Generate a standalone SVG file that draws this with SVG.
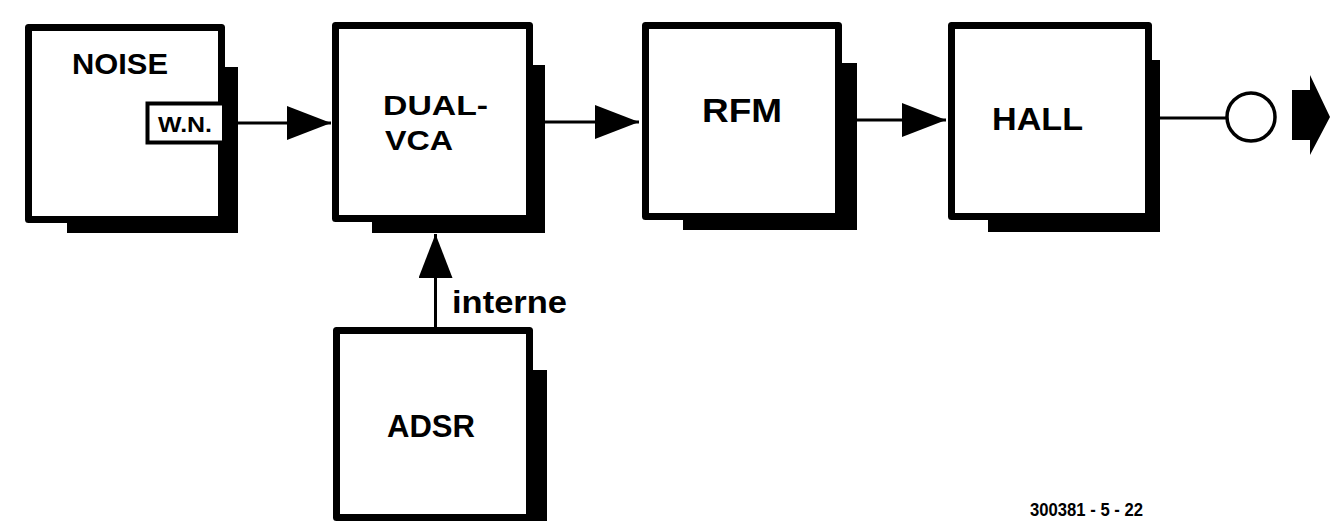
<svg xmlns="http://www.w3.org/2000/svg" width="1335" height="521" viewBox="0 0 1335 521">
<defs>
<style>
.shadow{fill:#000}
.box{fill:#fff;stroke:#000;stroke-width:7;stroke-linejoin:round}
.lbl{font-family:"Liberation Sans",Arial,sans-serif;font-weight:bold;fill:#000}
.wire{fill:none;stroke:#000;stroke-width:3}
</style>
<marker id="tri" markerUnits="userSpaceOnUse" markerWidth="46" markerHeight="36" refX="44" refY="17" orient="auto">
<path d="M0,0 L44,17 L0,34 z" fill="#000"/>
</marker>
</defs>
<rect width="1335" height="521" fill="#fff"/>

<g id="connectors">
<line class="wire" x1="238" y1="123" x2="331" y2="123" marker-end="url(#tri)"/>
<line class="wire" x1="545" y1="122" x2="639" y2="122" marker-end="url(#tri)"/>
<line class="wire" x1="857" y1="120" x2="946" y2="120" marker-end="url(#tri)"/>
<line class="wire" x1="435.5" y1="327" x2="435.5" y2="234" marker-end="url(#tri)"/>
<line class="wire" x1="1160" y1="118" x2="1227" y2="118"/>
<circle cx="1251" cy="117" r="24" fill="#fff" stroke="#000" stroke-width="3.5"/>
<polygon points="1292,90 1310,90 1310,75 1330,117 1310,155 1310,140 1292,140" fill="#000"/>
</g>

<g id="noise">
<rect class="shadow" x="67" y="67" width="171" height="166"/>
<rect class="box" x="28.5" y="27.5" width="193" height="192"/>
<path d="M222,103.5 H147.5 V142.5 H222" fill="#fff" stroke="#000" stroke-width="4"/>
<text class="lbl" x="72" y="74" font-size="30" textLength="96" lengthAdjust="spacingAndGlyphs">NOISE</text>
<text class="lbl" x="158" y="132" font-size="22" textLength="54" lengthAdjust="spacingAndGlyphs">W.N.</text>
</g>

<g id="dualvca">
<rect class="shadow" x="372" y="65" width="173" height="168"/>
<rect class="box" x="335.5" y="25.5" width="194" height="193"/>
<text class="lbl" x="383" y="115" font-size="28" textLength="105" lengthAdjust="spacingAndGlyphs">DUAL-</text>
<text class="lbl" x="385" y="150" font-size="28" textLength="68" lengthAdjust="spacingAndGlyphs">VCA</text>
</g>

<g id="rfm">
<rect class="shadow" x="683" y="63" width="174" height="167"/>
<rect class="box" x="645.5" y="25.5" width="193" height="191"/>
<text class="lbl" x="702" y="122" font-size="34" textLength="80" lengthAdjust="spacingAndGlyphs">RFM</text>
</g>

<g id="hall">
<rect class="shadow" x="988" y="60" width="172" height="172"/>
<rect class="box" x="951.5" y="25.5" width="197" height="191"/>
<text class="lbl" x="992" y="130" font-size="32" textLength="91" lengthAdjust="spacingAndGlyphs">HALL</text>
</g>

<g id="adsr">
<rect class="shadow" x="373" y="370" width="174" height="160"/>
<rect class="box" x="336.5" y="330.5" width="193" height="187"/>
<text class="lbl" x="387" y="437" font-size="31" textLength="88" lengthAdjust="spacingAndGlyphs">ADSR</text>
</g>

<g id="labels">
<text class="lbl" x="452" y="313" font-size="32" textLength="115" lengthAdjust="spacingAndGlyphs">interne</text>
<text class="lbl" x="1030" y="516" font-size="19" textLength="113" lengthAdjust="spacingAndGlyphs">300381 - 5 - 22</text>
</g>
</svg>
